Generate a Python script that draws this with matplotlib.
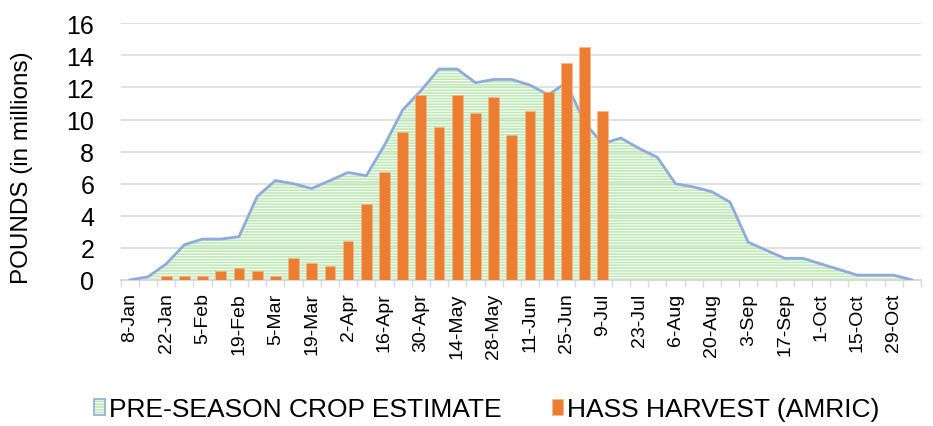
import numpy as np
import matplotlib
matplotlib.use("Agg")
import matplotlib.pyplot as plt
from matplotlib.patches import Patch

plt.rcParams['font.family'] = ['Liberation Sans', 'DejaVu Sans']
plt.rcParams['hatch.linewidth'] = 1.2

# weekly categories (Monday of each week)
weeks = ["8-Jan", "15-Jan", "22-Jan", "29-Jan", "5-Feb", "12-Feb", "19-Feb", "26-Feb",
         "5-Mar", "12-Mar", "19-Mar", "26-Mar", "2-Apr", "9-Apr", "16-Apr", "23-Apr",
         "30-Apr", "7-May", "14-May", "21-May", "28-May", "4-Jun", "11-Jun", "18-Jun",
         "25-Jun", "2-Jul", "9-Jul", "16-Jul", "23-Jul", "30-Jul", "6-Aug", "13-Aug",
         "20-Aug", "27-Aug", "3-Sep", "10-Sep", "17-Sep", "24-Sep", "1-Oct", "8-Oct",
         "15-Oct", "22-Oct", "29-Oct", "5-Nov"]

# pre-season crop estimate (millions of pounds)
estimate = [0.0, 0.2, 1.0, 2.2, 2.55, 2.55, 2.7, 5.2, 6.2, 6.0, 5.7, 6.2, 6.7, 6.5,
            8.4, 10.6, 11.8, 13.15, 13.15, 12.3, 12.5, 12.5, 12.15, 11.55, 12.3, 9.8,
            8.5, 8.85, 8.2, 7.65, 6.0, 5.8, 5.5, 4.85, 2.35, 1.85, 1.35, 1.35, 1.0,
            0.65, 0.3, 0.3, 0.3, 0.0]

# hass harvest (AMRIC), only reported up to 9-Jul
harvest = [np.nan, np.nan, 0.25, 0.25, 0.25, 0.56, 0.75, 0.56, 0.25, 1.4, 1.08, 0.9,
           2.4, 4.75, 6.75, 9.2, 11.55, 9.55, 11.55, 10.4, 11.4, 9.05, 10.55, 11.7,
           13.55, 14.55, 10.55]

yticks = [0, 2, 4, 6, 8, 10, 12, 14, 16]

blue = "#8FAADC"
green = "#BDEAB3"
orange = "#ED7D31"
grid = "#D9D9D9"

x = np.arange(len(weeks))
xh = np.arange(len(harvest))

fig = plt.figure(figsize=(9.33, 4.27), dpi=100)
ax = fig.add_axes([0.1294, 0.342, 0.8578, 0.601])

area = ax.fill_between(x, estimate, 0, facecolor="none", edgecolor=green,
                       hatch="------", linewidth=0, zorder=2)
ax.plot(x, estimate, color=blue, lw=2.0, zorder=3, solid_joinstyle="round")
bars = ax.bar(xh, harvest, width=0.59, color=orange, edgecolor="#F5B58C",
              linewidth=0.4, zorder=4)

ax.set_xlim(-0.5, len(weeks) - 0.5)
ax.set_ylim(0, 16)
ax.set_yticks(yticks)
ax.set_yticklabels([str(v) for v in yticks], fontsize=18)
ax.tick_params(axis="y", length=0, pad=19)

ax.set_xticks(x[::2])
ax.set_xticklabels(weeks[::2], rotation=90, fontsize=14)
ax.set_xticks(np.arange(len(weeks) + 1) - 0.5, minor=True)
ax.tick_params(axis="x", which="major", length=0, pad=9)
ax.tick_params(axis="x", which="minor", length=5, width=1.0, color=grid)

ax.grid(axis="y", color=grid, lw=1.1, zorder=0)
ax.set_axisbelow(True)
for s in ["top", "right", "left"]:
    ax.spines[s].set_visible(False)
ax.spines["bottom"].set_color(grid)
ax.spines["bottom"].set_linewidth(1.5)

ax.set_ylabel("POUNDS (in millions)", fontsize=17.5)
ax.yaxis.set_label_coords(-0.11, 0.44)

h1 = (Patch(facecolor="white", edgecolor=green, hatch="------", linewidth=0),
      Patch(facecolor="none", edgecolor=blue, linewidth=1.2))
fig.legend([h1, bars], ["PRE-SEASON CROP ESTIMATE", "HASS HARVEST (AMRIC)"],
           loc="center", bbox_to_anchor=(0.522, 0.04), ncol=2, frameon=False,
           fontsize=19, handlelength=0.42, handleheight=0.55, handletextpad=0.15,
           columnspacing=1.9)

fig.savefig("out.png", dpi=100)
